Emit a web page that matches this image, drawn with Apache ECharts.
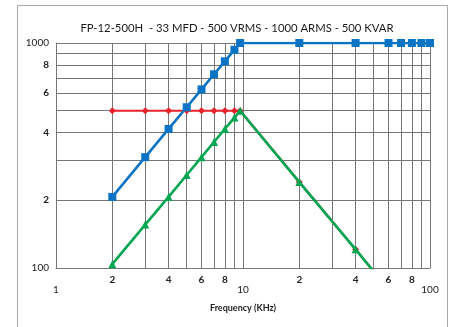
<!DOCTYPE html>
<html>
<head>
<meta charset="utf-8">
<script src="https://cdn.jsdelivr.net/npm/echarts@6/dist/echarts.min.js"></script>
<style>html,body{margin:0;padding:0;background:#fff}#c{width:453px;height:327px}</style>
</head>
<body>
<div id="c"></div>
<script>
// Frequency (kHz) points
var currentFreq = [2, 3, 4, 5, 6, 7, 8, 9, 9.65, 20, 40, 60, 70, 80, 90, 100];
var currentVals = [207, 311, 415, 518, 622, 726, 829, 933, 1000, 1000, 1000, 1000, 1000, 1000, 1000, 1000];
var voltFreq = [2, 3, 4, 5, 6, 7, 8, 9, 9.65, 20, 40, 50];
var voltVals = [500, 500, 500, 500, 500, 500, 500, 500, 500, 241, 121, 96.5];
var kvarFreq = [2, 3, 4, 5, 6, 7, 8, 9, 9.65, 20, 40, 50];
var kvarVals = [104, 156, 207, 259, 311, 363, 415, 466, 500, 241, 121, 96.5];

var xGridValues = [1, 2, 3, 4, 5, 6, 7, 8, 9, 10, 20, 30, 40, 50, 60, 70, 80, 90, 100];
var xLabelValues = [2, 4, 6, 8, 20, 40, 60, 80];
var xDecadeLabels = [1, 10, 100];
var yGridValues = [100, 200, 300, 400, 500, 600, 700, 800, 900, 1000];
var yLabelValues = [100, 200, 400, 600, 800, 1000];

function pairs(xs, ys) { return xs.map(function (x, i) { return [x, ys[i]]; }); }

var gridColor = '#777';
var chart = echarts.init(document.getElementById('c'), null, {renderer: 'canvas'});
chart.setOption({
  animation: false,
  backgroundColor: '#fff',
  title: {
    text: 'FP-12-500H  - 33 MFD - 500 VRMS - 1000 ARMS - 500 KVAR',
    left: 232, top: 18, textAlign: 'center',
    textStyle: {fontFamily: 'Lato', fontSize: 11.3, fontWeight: 'normal', color: '#1a1a1a'}
  },
  graphic: [{
    type: 'rect', shape: {x: 17.5, y: 5.5, width: 430, height: 340},
    style: {fill: 'none', stroke: '#a8a8a8', lineWidth: 1}, silent: true
  }],
  grid: {left: 56, top: 43, width: 374, height: 225},
  xAxis: [{
    type: 'log', logBase: 10, min: 1, max: 100,
    name: 'Frequency (KHz)', nameLocation: 'middle', nameGap: 36,
    nameTextStyle: {fontFamily: 'Lato', fontSize: 9, fontWeight: 'bold', color: '#222'},
    axisLine: {show: true, lineStyle: {color: gridColor, width: 1}},
    axisTick: {show: false, customValues: xGridValues},
    axisLabel: {customValues: xLabelValues, margin: 7, fontFamily: 'Lato', fontSize: 10, fontWeight: 'bold', color: '#222',
      formatter: function (v) { return String(v >= 10 ? Math.round(v / 10) : v); }},
    splitLine: {show: true, lineStyle: {color: gridColor, width: 1}}
  }, {
    type: 'log', logBase: 10, min: 1, max: 100, gridIndex: 0, position: 'bottom',
    axisLine: {show: false}, axisTick: {show: false}, splitLine: {show: false},
    axisLabel: {customValues: xDecadeLabels, margin: 17, fontFamily: 'Lato', fontSize: 10, color: '#222',
      formatter: function (v) { return String(Math.round(v)); }}
  }],
  yAxis: {
    type: 'log', logBase: 10, min: 100, max: 1000,
    axisLine: {show: true, lineStyle: {color: gridColor, width: 1}},
    axisTick: {show: false, customValues: yGridValues},
    axisLabel: {customValues: yLabelValues, margin: 7, fontFamily: 'Lato', fontSize: 10, color: '#222',
      formatter: function (v) { v = Math.round(v); return (v === 100 || v === 1000) ? String(v) : '{b|' + (v / 100) + '}'; },
      rich: {b: {fontFamily: 'Lato', fontSize: 10, fontWeight: 'bold', color: '#222'}}},
    splitLine: {show: true, lineStyle: {color: gridColor, width: 1}}
  },
  series: [{
    name: 'Voltage', type: 'line', data: pairs(voltFreq, voltVals),
    symbol: 'diamond', symbolSize: 7, color: '#e8232a',
    lineStyle: {width: 2.2, color: '#e8232a'}, itemStyle: {color: '#e8232a'}, z: 2
  }, {
    name: 'KVAR', type: 'line', data: pairs(kvarFreq, kvarVals),
    symbol: 'triangle', symbolSize: 8, color: '#00a651',
    lineStyle: {width: 2.6, color: '#00a651'}, itemStyle: {color: '#00a651'}, z: 3
  }, {
    name: 'Current', type: 'line', data: pairs(currentFreq, currentVals),
    symbol: 'rect', symbolSize: 8, color: '#0a74c4',
    lineStyle: {width: 2.6, color: '#0a74c4'}, itemStyle: {color: '#0a74c4'}, z: 4
  }]
});
</script>
</body>
</html>
